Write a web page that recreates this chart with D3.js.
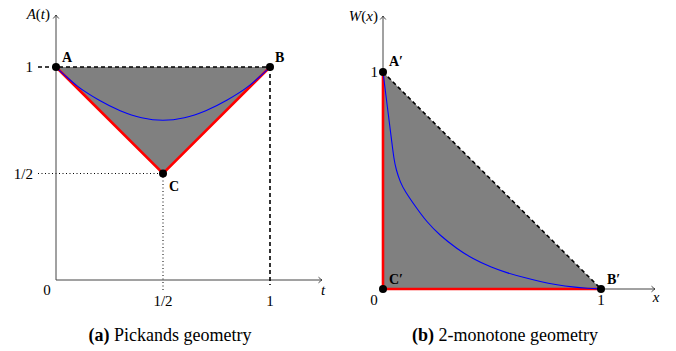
<!DOCTYPE html>
<html><head><meta charset="utf-8">
<script src="https://cdn.jsdelivr.net/npm/d3@7"></script>
<style>
body{margin:0;background:#fff;}
</style></head>
<body><svg id="c" width="676" height="351"></svg>
<script>
// ---- data ----
const pickT = [0, 0.05, 0.1, 0.2, 0.3, 0.4, 0.5, 0.6, 0.7, 0.8, 0.9, 0.95, 1];
const pickA = [1, 0.953, 0.91, 0.845, 0.795, 0.762, 0.75, 0.762, 0.795, 0.845, 0.91, 0.953, 1];
const monoX = [0, 0.01, 0.02, 0.03, 0.04, 0.05, 0.06, 0.08, 0.1, 0.15, 0.2, 0.26, 0.34, 0.41, 0.5, 0.57, 0.65, 0.72, 0.8, 0.87, 0.94, 1];
const monoW = [1, 0.92, 0.84, 0.76, 0.68, 0.6, 0.55, 0.49, 0.452, 0.378, 0.31, 0.248, 0.185, 0.14, 0.098, 0.074, 0.052, 0.034, 0.019, 0.009, 0.003, 0];
const pickPtsName = ["A", "B", "C"];
const pickPtsX = [0, 1, 0.5];
const pickPtsY = [1, 1, 0.5];
const monoPtsName = ["A\u2032", "B\u2032", "C\u2032"];
const monoPtsX = [0, 1, 0];
const monoPtsY = [1, 0, 0];
const pickXTicks = [0.5, 1];
const pickXTickLabels = ["1/2", "1"];
const pickYTicks = [1, 0.5];
const pickYTickLabels = ["1", "1/2"];
const monoXTicks = [1];
const monoXTickLabels = ["1"];
const monoYTicks = [1];
const monoYTickLabels = ["1"];

const FS = 15;
const PFS = 14;
const CFS = 18;
const FONT = "'Liberation Serif', 'DejaVu Serif'";
const svg = d3.select("#c");
const defs = svg.append("defs");
defs.append("marker").attr("id","arr").attr("viewBox","-5 -4 6 8")
  .attr("refX",0).attr("refY",0).attr("markerWidth",6).attr("markerHeight",8)
  .attr("markerUnits","userSpaceOnUse").attr("orient","auto")
  .append("path").attr("d","M-3.5,-2.8 Q-1,-0.6 0,0 Q-1,0.6 -3.5,2.8")
  .attr("fill","none").attr("stroke","#333").attr("stroke-width",0.9);

const GRAY = "#808080", RED = "#ff0000", BLUE = "#0000ff";

// ===== Panel (a) =====
const xL = d3.scaleLinear().domain([0,1]).range([56,270]);
const yL = d3.scaleLinear().domain([0,1]).range([280,67]);
const gL = svg.append("g");
const pA = pickPtsX.map((v,i)=>[xL(v), yL(pickPtsY[i])]);
gL.append("path").attr("d", d3.line()(pA)+"Z").attr("fill",GRAY);
gL.append("line").attr("x1",38).attr("x2",xL(0.5)).attr("y1",yL(0.5)).attr("y2",yL(0.5))
  .attr("stroke","#000").attr("stroke-width",1).attr("stroke-dasharray","1,2.5");
gL.append("line").attr("x1",xL(0.5)).attr("x2",xL(0.5)).attr("y1",yL(0.5)).attr("y2",292)
  .attr("stroke","#000").attr("stroke-width",1).attr("stroke-dasharray","1,2.5");
gL.append("line").attr("x1",xL(0)).attr("y1",yL(0)).attr("x2",xL(0)).attr("y2",15)
  .attr("stroke","#444").attr("stroke-width",1).attr("marker-end","url(#arr)");
gL.append("line").attr("x1",xL(0)).attr("y1",yL(0)).attr("x2",322).attr("y2",yL(0))
  .attr("stroke","#444").attr("stroke-width",1).attr("marker-end","url(#arr)");
gL.append("line").attr("x1",38).attr("x2",xL(1)).attr("y1",yL(1)).attr("y2",yL(1))
  .attr("stroke","#000").attr("stroke-width",1.6).attr("stroke-dasharray","4,3");
gL.append("line").attr("x1",xL(1)).attr("x2",xL(1)).attr("y1",yL(1)).attr("y2",285)
  .attr("stroke","#000").attr("stroke-width",1.6).attr("stroke-dasharray","4,3");
gL.append("path").attr("d", d3.line()([pA[0],pA[2],pA[1]])).attr("fill","none")
  .attr("stroke",RED).attr("stroke-width",2.6);
gL.append("path").attr("d", d3.line().x(d=>xL(d[0])).y(d=>yL(d[1])).curve(d3.curveMonotoneX)(pickT.map((t,i)=>[t,pickA[i]])))
  .attr("fill","none").attr("stroke",BLUE).attr("stroke-width",1.1);
gL.selectAll("circle").data(pA).join("circle").attr("cx",d=>d[0]).attr("cy",d=>d[1]).attr("r",4).attr("fill","#000");
const pOff = [[6,-5],[5,-5],[6,17]];
gL.selectAll("text.pl").data(pickPtsName).join("text").attr("class","pl")
  .attr("x",(d,i)=>pA[i][0]+pOff[i][0]).attr("y",(d,i)=>pA[i][1]+pOff[i][1])
  .attr("font-size",PFS).attr("font-weight","bold").text(d=>d);
gL.selectAll("text.xt").data(pickXTicks).join("text").attr("class","xt")
  .attr("x",d=>xL(d)).attr("y",306).attr("text-anchor","middle").attr("font-size",FS)
  .text((d,i)=>pickXTickLabels[i]);
gL.selectAll("text.yt").data(pickYTicks).join("text").attr("class","yt")
  .attr("x",33).attr("y",d=>yL(d)+5).attr("text-anchor","end").attr("font-size",FS)
  .text((d,i)=>pickYTickLabels[i]);
gL.append("text").attr("x",47).attr("y",295).attr("text-anchor","middle").attr("font-size",FS).text("0");
gL.append("text").attr("x",323).attr("y",295).attr("text-anchor","middle").attr("font-size",FS).attr("font-style","italic").text("t");
gL.append("text").attr("x",50).attr("y",19).attr("text-anchor","end").attr("font-size",FS)
  .html('<tspan font-style="italic">A</tspan>(<tspan font-style="italic">t</tspan>)');
const capA = gL.append("text").attr("x",170).attr("y",341).attr("text-anchor","middle").attr("font-size",CFS);
capA.append("tspan").attr("font-weight","bold").text("(a)");
capA.append("tspan").text(" Pickands geometry");

// ===== Panel (b) =====
const xR = d3.scaleLinear().domain([0,1]).range([383,601]);
const yR = d3.scaleLinear().domain([0,1]).range([289,72]);
const gR = svg.append("g");
const pB = monoPtsX.map((v,i)=>[xR(v), yR(monoPtsY[i])]);
gR.append("path").attr("d", d3.line()(pB)+"Z").attr("fill",GRAY);
gR.append("line").attr("x1",xR(0)).attr("y1",yR(0)).attr("x2",xR(0)).attr("y2",16)
  .attr("stroke","#444").attr("stroke-width",1).attr("marker-end","url(#arr)");
gR.append("line").attr("x1",xR(0)).attr("y1",yR(0)).attr("x2",655).attr("y2",yR(0))
  .attr("stroke","#444").attr("stroke-width",1).attr("marker-end","url(#arr)");
gR.append("line").attr("x1",pB[0][0]).attr("y1",pB[0][1]).attr("x2",pB[1][0]).attr("y2",pB[1][1])
  .attr("stroke","#000").attr("stroke-width",1.6).attr("stroke-dasharray","4,3");
gR.append("path").attr("d", d3.line()([pB[0],pB[2],pB[1]])).attr("fill","none")
  .attr("stroke",RED).attr("stroke-width",2.6);
gR.append("path").attr("d", d3.line().x(d=>xR(d[0])).y(d=>yR(d[1])).curve(d3.curveBasis)(monoX.map((x,i)=>[x,monoW[i]])))
  .attr("fill","none").attr("stroke",BLUE).attr("stroke-width",1.1);
gR.selectAll("circle").data(pB).join("circle").attr("cx",d=>d[0]).attr("cy",d=>d[1]).attr("r",4).attr("fill","#000");
const qOff = [[6,-6],[6,-5],[6,-5]];
gR.selectAll("text.pl").data(monoPtsName).join("text").attr("class","pl")
  .attr("x",(d,i)=>pB[i][0]+qOff[i][0]).attr("y",(d,i)=>pB[i][1]+qOff[i][1])
  .attr("font-size",PFS).attr("font-weight","bold").text(d=>d);
gR.selectAll("text.xt").data(monoXTicks).join("text").attr("class","xt")
  .attr("x",d=>xR(d)).attr("y",305).attr("text-anchor","middle").attr("font-size",FS)
  .text((d,i)=>monoXTickLabels[i]);
gR.selectAll("text.yt").data(monoYTicks).join("text").attr("class","yt")
  .attr("x",378).attr("y",d=>yR(d)+5).attr("text-anchor","end").attr("font-size",FS)
  .text((d,i)=>monoYTickLabels[i]);
gR.append("text").attr("x",374).attr("y",305).attr("text-anchor","middle").attr("font-size",FS).text("0");
gR.append("text").attr("x",656).attr("y",302).attr("text-anchor","middle").attr("font-size",FS).attr("font-style","italic").text("x");
gR.append("text").attr("x",378).attr("y",21).attr("text-anchor","end").attr("font-size",FS)
  .html('<tspan font-style="italic">W</tspan>(<tspan font-style="italic">x</tspan>)');
const capB = gR.append("text").attr("x",505).attr("y",341).attr("text-anchor","middle").attr("font-size",CFS);
capB.append("tspan").attr("font-weight","bold").text("(b)");
capB.append("tspan").text(" 2-monotone geometry");

svg.selectAll("text").style("font-family", FONT).style("fill","#000");
</script></body></html>
